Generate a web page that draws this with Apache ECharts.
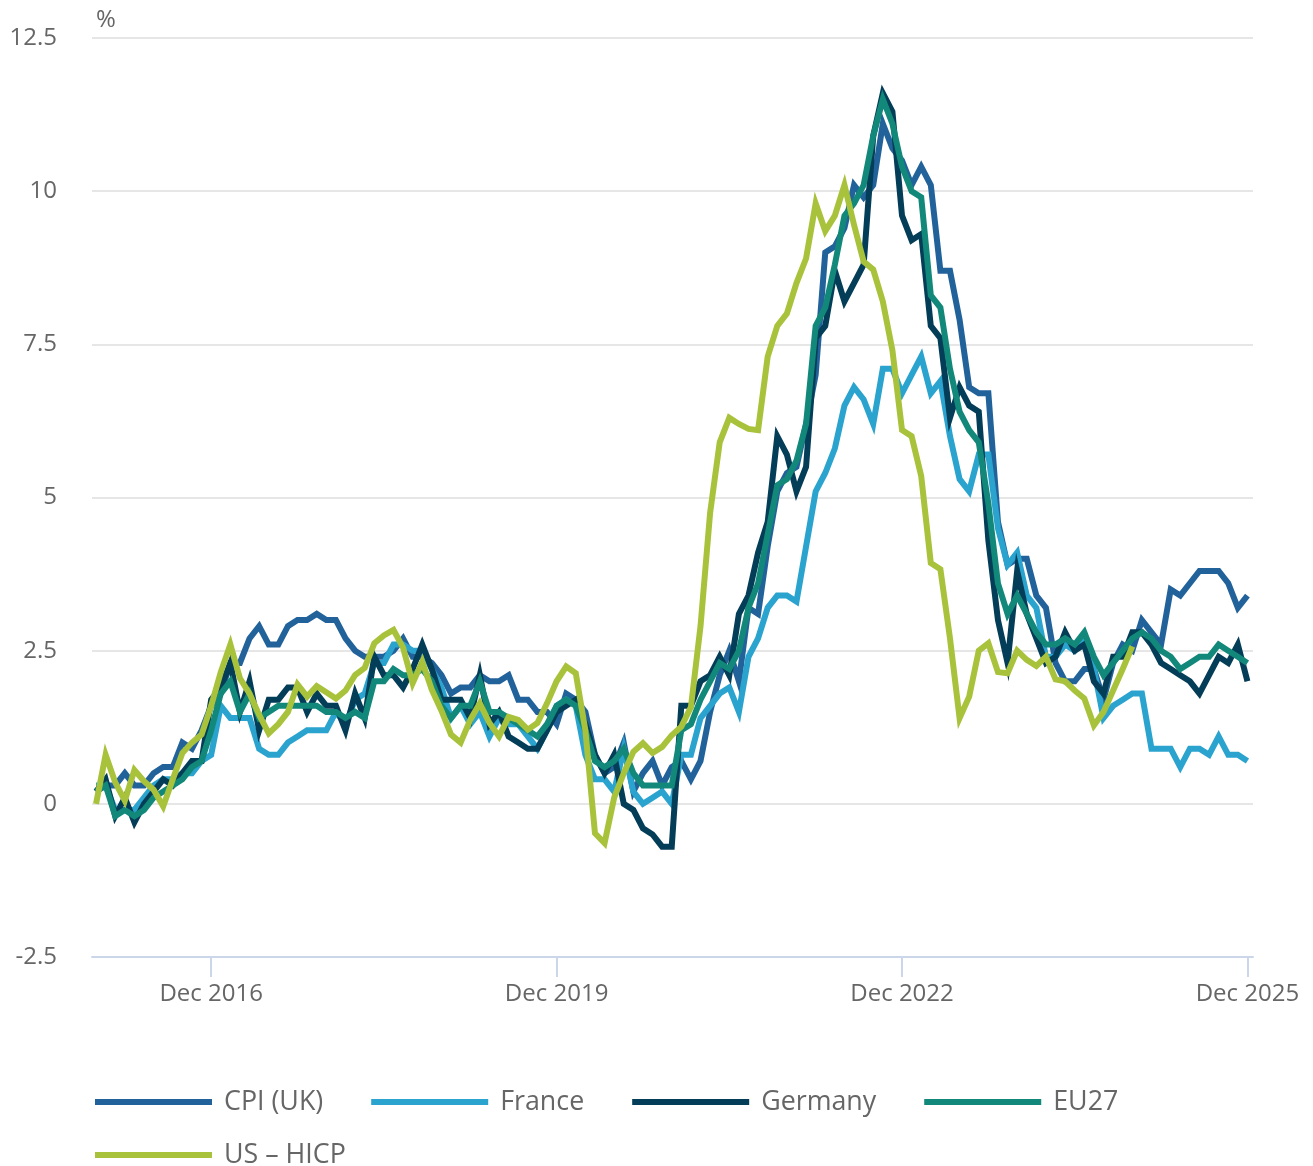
<!DOCTYPE html>
<html>
<head>
<meta charset="utf-8">
<title>Inflation comparison</title>
<script src="https://cdn.jsdelivr.net/npm/echarts@6/dist/echarts.min.js"></script>
<style>
    html, body { margin: 0; padding: 0; background: #fff; }
    #chart { width: 1313px; height: 1166px; }
</style>
</head>
<body>
<div id="chart"></div>
<script>
// monthly, Dec 2015 .. Dec 2025 (121 points)
var tickLabels = ["Dec 2016", "Dec 2019", "Dec 2022", "Dec 2025"];
var tickIndex = [12, 48, 84, 120];

var cpiUK = [0.2,
    0.3,0.3,0.5,0.3,0.3,0.5,0.6,0.6,1.0,0.9,1.2,1.6,
    1.8,2.3,2.3,2.7,2.9,2.6,2.6,2.9,3.0,3.0,3.1,3.0,
    3.0,2.7,2.5,2.4,2.4,2.4,2.5,2.7,2.4,2.4,2.3,2.1,
    1.8,1.9,1.9,2.1,2.0,2.0,2.1,1.7,1.7,1.5,1.5,1.3,
    1.8,1.7,1.5,0.8,0.5,0.6,1.0,0.2,0.5,0.7,0.3,0.6,
    0.7,0.4,0.7,1.5,2.1,2.5,2.0,3.2,3.1,4.2,5.1,5.4,
    5.5,6.2,7.0,9.0,9.1,9.4,10.1,9.9,10.1,11.1,10.7,10.5,
    10.1,10.4,10.1,8.7,8.7,7.9,6.8,6.7,6.7,4.6,3.9,4.0,
    4.0,3.4,3.2,2.3,2.0,2.0,2.2,2.2,1.7,2.3,2.6,2.5,
    3.0,2.8,2.6,3.5,3.4,3.6,3.8,3.8,3.8,3.6,3.2,3.4];

var france = [0.3,
    0.3,-0.1,-0.1,-0.1,0.1,0.3,0.4,0.4,0.5,0.5,0.7,0.8,
    1.6,1.4,1.4,1.4,0.9,0.8,0.8,1.0,1.1,1.2,1.2,1.2,
    1.5,1.3,1.7,1.8,2.3,2.3,2.6,2.6,2.5,2.5,2.2,1.9,
    1.4,1.6,1.3,1.5,1.1,1.4,1.3,1.3,1.1,0.9,1.2,1.6,
    1.7,1.6,0.8,0.4,0.4,0.2,0.9,0.2,0.0,0.1,0.2,0.0,
    0.8,0.8,1.4,1.6,1.8,1.9,1.5,2.4,2.7,3.2,3.4,3.4,
    3.3,4.2,5.1,5.4,5.8,6.5,6.8,6.6,6.2,7.1,7.1,6.7,
    7.0,7.3,6.7,6.9,6.0,5.3,5.1,5.7,5.7,4.5,3.9,4.1,
    3.4,3.2,2.4,2.4,2.6,2.5,2.7,2.2,1.4,1.6,1.7,1.8,
    1.8,0.9,0.9,0.9,0.6,0.9,0.9,0.8,1.1,0.8,0.8,0.7];

var germany = [0.2,
    0.4,-0.2,0.1,-0.3,0.0,0.2,0.4,0.3,0.5,0.7,0.7,1.7,
    1.9,2.3,1.5,2.0,1.2,1.7,1.7,1.9,1.9,1.5,1.8,1.6,
    1.6,1.2,1.8,1.4,2.4,2.1,2.1,1.9,2.2,2.6,2.2,1.7,
    1.7,1.7,1.4,2.1,1.3,1.5,1.1,1.0,0.9,0.9,1.2,1.5,
    1.6,1.7,1.3,0.8,0.5,0.8,0.0,-0.1,-0.4,-0.5,-0.7,-0.7,
    1.6,1.6,2.0,2.1,2.4,2.1,3.1,3.4,4.1,4.6,6.0,5.7,
    5.1,5.5,7.6,7.8,8.7,8.2,8.5,8.8,10.9,11.6,11.3,9.6,
    9.2,9.3,7.8,7.6,6.3,6.8,6.5,6.4,4.3,3.0,2.3,3.8,
    3.1,2.7,2.3,2.4,2.8,2.5,2.6,2.0,1.8,2.4,2.4,2.8,
    2.8,2.6,2.3,2.2,2.1,2.0,1.8,2.1,2.4,2.3,2.6,2.0];

var eu27 = [0.2,
    0.3,-0.2,-0.1,-0.2,-0.1,0.1,0.2,0.3,0.4,0.6,0.7,1.2,
    1.8,2.0,1.5,1.8,1.4,1.5,1.6,1.6,1.6,1.6,1.6,1.5,
    1.5,1.4,1.5,1.4,2.0,2.0,2.2,2.1,2.1,2.2,2.0,1.6,
    1.4,1.6,1.6,2.0,1.5,1.5,1.4,1.3,1.2,1.1,1.3,1.6,
    1.7,1.6,1.2,0.7,0.6,0.7,0.9,0.5,0.3,0.3,0.3,0.3,
    1.2,1.3,1.7,2.0,2.3,2.2,2.5,3.2,3.6,4.4,5.2,5.3,
    5.6,6.2,7.8,8.1,8.8,9.6,9.8,10.1,10.9,11.5,11.1,10.4,
    10.0,9.9,8.3,8.1,7.1,6.4,6.1,5.9,4.9,3.6,3.1,3.4,
    3.1,2.8,2.6,2.6,2.7,2.6,2.8,2.4,2.1,2.3,2.5,2.7,
    2.8,2.7,2.5,2.4,2.2,2.3,2.4,2.4,2.6,2.5,2.4,2.3];

var usHICP = [0.0,
    0.8,0.35,0.05,0.55,0.37,0.23,-0.04,0.4,0.83,1.0,1.13,1.6,
    2.15,2.6,2.05,1.8,1.45,1.15,1.3,1.5,1.95,1.75,1.92,1.82,
    1.72,1.85,2.1,2.22,2.62,2.75,2.84,2.55,1.97,2.32,1.86,1.52,
    1.13,1.0,1.37,1.64,1.32,1.1,1.42,1.37,1.21,1.32,1.64,2.0,
    2.24,2.13,1.2,-0.48,-0.64,0.1,0.5,0.85,0.99,0.83,0.93,1.12,
    1.26,1.58,2.9,4.75,5.9,6.3,6.2,6.12,6.1,7.3,7.8,8.0,
    8.5,8.9,9.8,9.35,9.6,10.1,9.45,8.85,8.72,8.2,7.4,6.1,
    6.0,5.35,3.93,3.83,2.7,1.4,1.75,2.5,2.62,2.15,2.13,2.5,
    2.35,2.25,2.4,2.03,2.0,1.85,1.72,1.28,1.5,1.85,2.2,2.57,
    null,null,null,null,null,null,null,null,null,null,null,null];

var seriesNames = ["CPI (UK)", "France", "Germany", "EU27", "US \u2013 HICP"];
var seriesColors = ["#22629a", "#2aa3cf", "#033d57", "#12887a", "#a9c23b"];

var textGrey = "#666666";
var fontName = "'Open Sans', 'Noto Sans', sans-serif";

function toPairs (arr) {
    return arr.map(function (v, i) { return [i, v]; });
}

var allData = [cpiUK, france, germany, eu27, usHICP];

var series = allData.map(function (arr, k) {
    return {
        name: seriesNames[k],
        type: "line",
        data: toPairs(arr),
        showSymbol: false,
        connectNulls: false,
        color: seriesColors[k],
        lineStyle: { width: 6, color: seriesColors[k], join: "miter" }
    };
});

var legendBase = {
    left: 95,
    padding: 0,
    orient: "horizontal",
    icon: "rect",
    itemWidth: 117,
    itemHeight: 6,
    itemGap: 48,
    itemStyle: { borderWidth: 0 },
    lineStyle: { width: 0 },
    textStyle: {
        fontFamily: fontName,
        fontSize: 26.8,
        color: textGrey,
        lineHeight: 30,
        padding: [0, 0, 0, 7]
    }
};

var chart = echarts.init(document.getElementById("chart"));
var option = {
    animation: false,
    backgroundColor: "#ffffff",
    textStyle: { fontFamily: fontName },
    grid: { left: 92, right: 60, top: 38, bottom: 209, containLabel: false },
    legend: [
        Object.assign({}, legendBase, { top: 1087, data: seriesNames.slice(0, 4) }),
        Object.assign({}, legendBase, { top: 1140, data: seriesNames.slice(4) })
    ],
    xAxis: {
        type: "value",
        min: -0.42,
        max: 120.58,
        splitLine: { show: false },
        axisLine: { show: true, onZero: false, lineStyle: { color: "#ccd6eb", width: 2 } },
        axisTick: {
            show: true,
            length: 20,
            customValues: tickIndex,
            lineStyle: { color: "#ccd6eb", width: 2 }
        },
        axisLabel: {
            customValues: tickIndex,
            margin: 25,
            fontSize: 24,
            color: textGrey,
            fontFamily: fontName,
            formatter: function (v) {
                var k = tickIndex.indexOf(Math.round(v));
                return k >= 0 ? tickLabels[k] : "";
            }
        }
    },
    yAxis: {
        type: "value",
        min: -2.5,
        max: 12.5,
        interval: 2.5,
        name: "%",
        nameLocation: "end",
        nameGap: 6,
        nameTextStyle: {
            fontSize: 24,
            color: textGrey,
            fontFamily: fontName,
            align: "left",
            verticalAlign: "bottom"
        },
        axisLine: { show: false },
        axisTick: { show: false },
        axisLabel: {
            margin: 35,
            fontSize: 24,
            color: textGrey,
            fontFamily: fontName,
            padding: [4, 0, 0, 0],
            formatter: function (v) { return String(v); }
        },
        splitLine: { lineStyle: { color: "#e6e6e6", width: 2 } }
    },
    series: series
};
chart.setOption(option);
</script>
</body>
</html>
